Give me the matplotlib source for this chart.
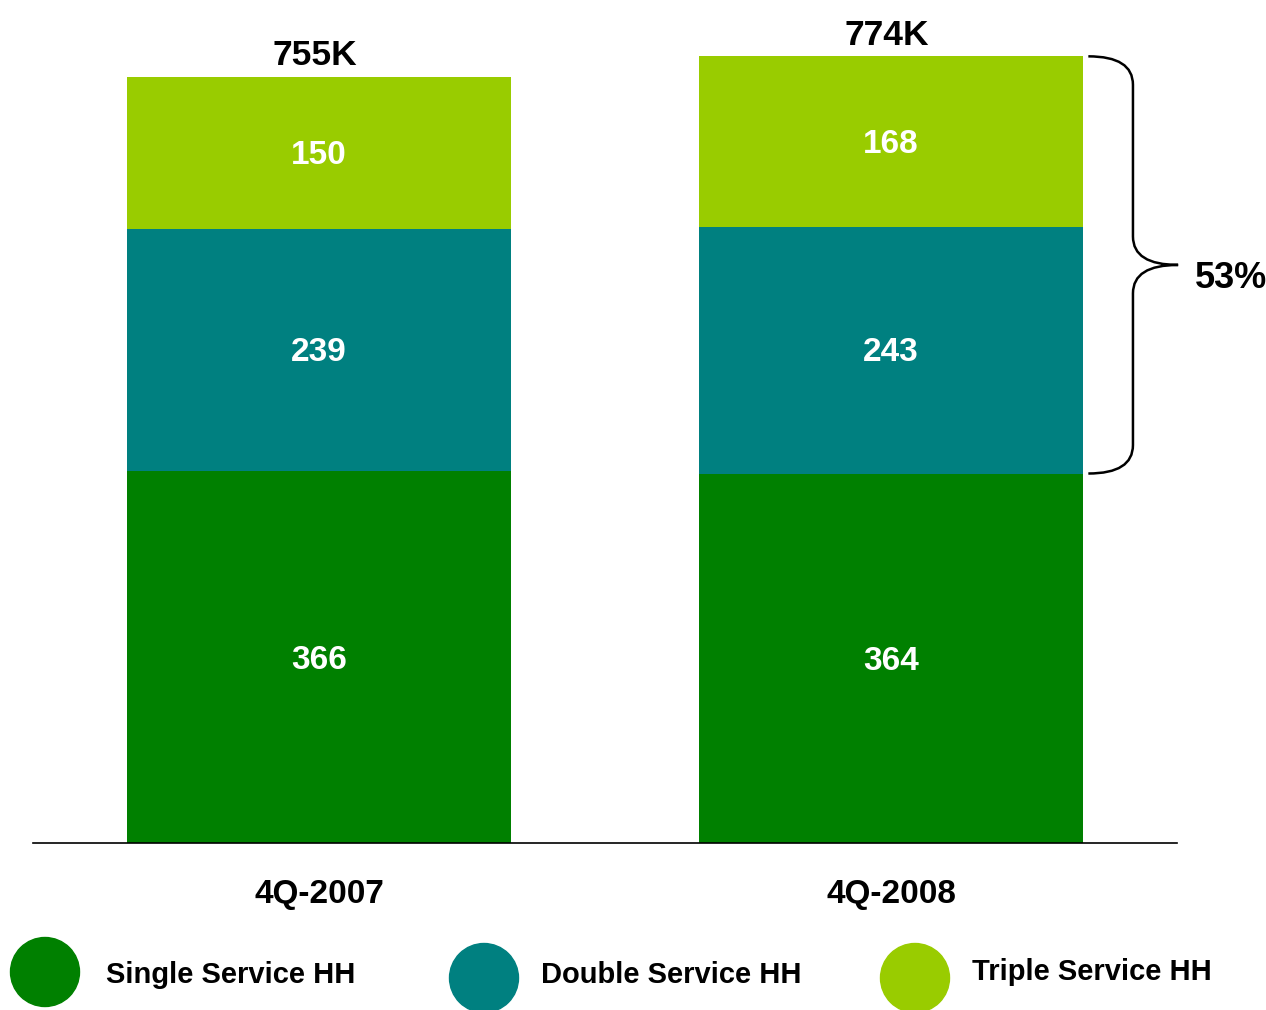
import matplotlib
matplotlib.use("Agg")
import matplotlib.pyplot as plt
from matplotlib.path import Path
from matplotlib.patches import PathPatch, Circle

plt.rcParams['font.family'] = ['Liberation Sans', 'DejaVu Sans']

categories = ["4Q-2007", "4Q-2008"]
series_names = ["Single Service HH", "Double Service HH", "Triple Service HH"]
single = [366, 364]
double = [239, 243]
triple = [150, 168]
totals_labels = ["755K", "774K"]
brace_label = "53%"
colors = ["#008000", "#008080", "#99CC00"]

W, H = 1266, 1010
fig = plt.figure(figsize=(W / 100, H / 100), dpi=100)
ax = fig.add_axes([33 / W, 167 / H, 1144 / W, 843 / H])

x = list(range(len(categories)))
bw = 0.67
bottom = [0, 0]
for vals, col in zip([single, double, triple], colors):
    ax.bar(x, vals, bw, bottom=bottom, color=col, edgecolor='none')
    for xi, v, b in zip(x, vals, bottom):
        ax.annotate(str(v), (xi, b + v / 2), xytext=(0, -2), textcoords='offset points',
                    ha='center', va='center', color='white',
                    fontsize=24, fontweight='bold')
    bottom = [b + v for b, v in zip(bottom, vals)]

for xi, tot, lab in zip(x, bottom, totals_labels):
    ax.annotate(lab, (xi, tot), xytext=(-3, 3), textcoords='offset points',
                ha='center', va='bottom', fontsize=25.5, fontweight='bold')

ax.set_xlim(-0.5, 1.5)
ax.set_ylim(0, 830.5)
ax.set_xticks(x)
ax.set_xticklabels(categories, fontsize=24, fontweight='bold')
ax.tick_params(axis='x', length=0, pad=26)
ax.set_yticks([])
for s in ['top', 'right', 'left']:
    ax.spines[s].set_visible(False)
ax.spines['bottom'].set_linewidth(1.2)

# brace on second bar: spanning double + triple
y0 = single[1]
y1 = bottom[1]
ym = (y0 + y1) / 2
xa = 1 + bw / 2 + 0.01
xb = xa + 0.078
xt = xb + 0.079
r = 28
verts = [
    (xa, y1), (xb, y1), (xb, y1 - r),
    (xb, ym + r),
    (xb, ym), (xt, ym),
    (xb, ym), (xb, ym - r),
    (xb, y0 + r),
    (xb, y0), (xa, y0),
]
codes = [Path.MOVETO, Path.CURVE3, Path.CURVE3,
         Path.LINETO,
         Path.CURVE3, Path.CURVE3,
         Path.CURVE3, Path.CURVE3,
         Path.LINETO,
         Path.CURVE3, Path.CURVE3]
ax.add_patch(PathPatch(Path(verts, codes), fill=False, lw=1.8, color='black', clip_on=False))
ax.text(xt + 0.03, ym - 13, brace_label, ha='left', va='center', fontsize=26,
        fontweight='bold', clip_on=False)

# legend
leg_pos = [(45, 972, 106, 975), (484, 978, 541, 975), (915, 978, 972, 972)]
for (cx, cy, tx, ty), name, col in zip(leg_pos, series_names, colors):
    fig.add_artist(Circle((cx / 100, (H - cy) / 100), 0.345, color=col,
                          transform=fig.dpi_scale_trans))
    fig.text(tx / W, (H - ty) / H, name, ha='left', va='center', fontsize=21,
             fontweight='bold')

fig.savefig("out.png", dpi=100)
